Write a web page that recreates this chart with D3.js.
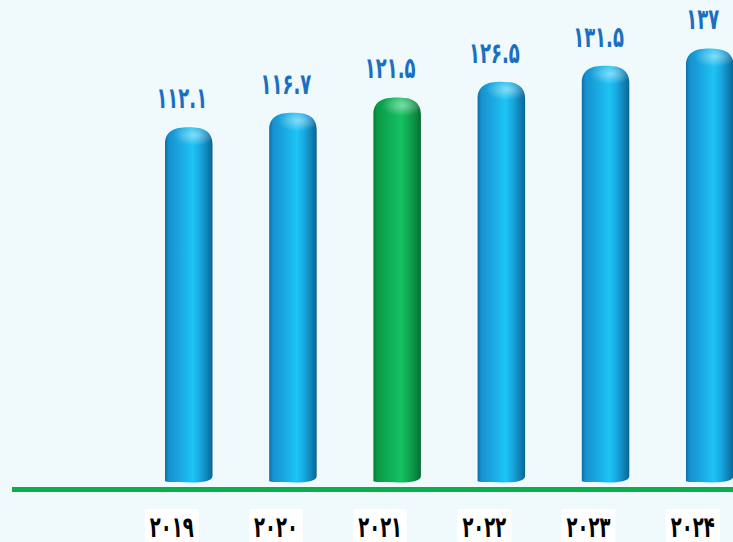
<!DOCTYPE html>
<html><head><meta charset="utf-8">
<script src="https://cdn.jsdelivr.net/npm/d3@7"></script>
<style>html,body{margin:0;padding:0;background:#f0f9fc;}svg{display:block;}</style>
</head><body>
<svg id="chart" width="733" height="542"></svg>
<script>
const years = ["2019","2020","2021","2022","2023","2024"];
const yearLabels = ["۲۰۱۹","۲۰۲۰","۲۰۲۱","۲۰۲۲","۲۰۲۳","۲۰۲۴"];
const values = [112.1, 116.7, 121.5, 126.5, 131.5, 137];
const valueLabels = ["۱۱۲.۱","۱۱۶.۷","۱۲۱.۵","۱۲۶.۵","۱۳۱.۵","۱۳۷"];
const highlightYear = "2021";

const W = 733, H = 542;
const svg = d3.select("#chart");
svg.append("rect").attr("width", W).attr("height", H).attr("fill", "#f0f9fc");

const x = d3.scaleBand().domain(years).range([136.65, 761.85]).paddingInner(0.544).paddingOuter(0.272);
const y = d3.scaleLinear().domain([0, 140]).range([482, 482 - 140 * 3.165]);

const defs = svg.append("defs");
function cylGrad(id, stops) {
  const g = defs.append("linearGradient").attr("id", id).attr("x1", "0%").attr("x2", "100%").attr("y1", "0%").attr("y2", "0%");
  stops.forEach(s => g.append("stop").attr("offset", s[0]).attr("stop-color", s[1]));
}
cylGrad("gBlue", [["0%","#0b6fa6"],["8%","#1592cf"],["30%","#1aa6e0"],["58%","#1cc4f4"],["72%","#19abe3"],["90%","#0f7fb3"],["100%","#0a6592"]]);
cylGrad("gGreen", [["0%","#067a36"],["8%","#0a9a47"],["30%","#0eaa52"],["58%","#14c263"],["72%","#0fac54"],["90%","#0a883f"],["100%","#066b30"]]);
const rg = defs.append("radialGradient").attr("id", "shine").attr("cx", "0.62").attr("cy", "0.45").attr("r", "0.45");
rg.append("stop").attr("offset", "0%").attr("stop-color", "#ffffff").attr("stop-opacity", 0.45);
rg.append("stop").attr("offset", "100%").attr("stop-color", "#ffffff").attr("stop-opacity", 0);

function cylPath(x0, w, yt, yb) {
  const ry = 17, by = 6;
  return `M${x0},${yb - 1}` +
    ` L${x0},${yt + ry}` +
    ` C${x0},${yt + ry * 0.25} ${x0 + w * 0.18},${yt} ${x0 + w / 2},${yt}` +
    ` C${x0 + w * 0.82},${yt} ${x0 + w},${yt + ry * 0.25} ${x0 + w},${yt + ry}` +
    ` L${x0 + w},${yb - by}` +
    ` C${x0 + w},${yb + 1} ${x0 + w * 0.6},${yb + 1} ${x0 + w * 0.3},${yb}` +
    ` C${x0 + w * 0.1},${yb} ${x0},${yb} ${x0},${yb - 1} Z`;
}

const bars = svg.append("g");
years.forEach((yr, i) => {
  const x0 = x(yr), w = x.bandwidth(), yt = y(values[i]), yb = y(0);
  bars.append("path").attr("d", cylPath(x0, w, yt, yb))
    .attr("fill", yr === highlightYear ? "url(#gGreen)" : "url(#gBlue)");
  bars.append("ellipse").attr("cx", x0 + w * 0.5).attr("cy", yt + 9).attr("rx", w * 0.5).attr("ry", 12)
    .attr("fill", "url(#shine)");
});

// baseline
svg.append("rect").attr("x", 12).attr("y", 487).attr("width", W - 12).attr("height", 5).attr("fill", "#0aae4c");

// value labels
const vl = svg.append("g").attr("font-family", "DejaVu Sans").attr("font-weight", "bold")
  .attr("font-size", 29).attr("fill", "#1a6fc2").attr("text-anchor", "middle");
years.forEach((yr, i) => {
  const t = vl.append("text").attr("x", x(yr) + x.bandwidth() / 2 - 7).attr("y", y(values[i]) - 19)
    .text(valueLabels[i]);
  const len = t.node().getComputedTextLength();
  t.attr("textLength", len * 0.62).attr("lengthAdjust", "spacingAndGlyphs");
});

// year labels
const yl = svg.append("g");
years.forEach((yr, i) => {
  const cx = x(yr) + x.bandwidth() / 2 - 17;
  yl.append("rect").attr("x", cx - 27).attr("y", 509).attr("width", 54).attr("height", 33).attr("fill", "#ffffff");
  const t = yl.append("text").attr("x", cx).attr("y", 537).attr("text-anchor", "middle")
    .attr("font-family", "DejaVu Sans").attr("font-weight", "bold").attr("font-size", 29).attr("fill", "#000")
    .text(yearLabels[i]);
  const len = t.node().getComputedTextLength();
  t.attr("textLength", len * 0.62).attr("lengthAdjust", "spacingAndGlyphs");
});
</script>
</body></html>
